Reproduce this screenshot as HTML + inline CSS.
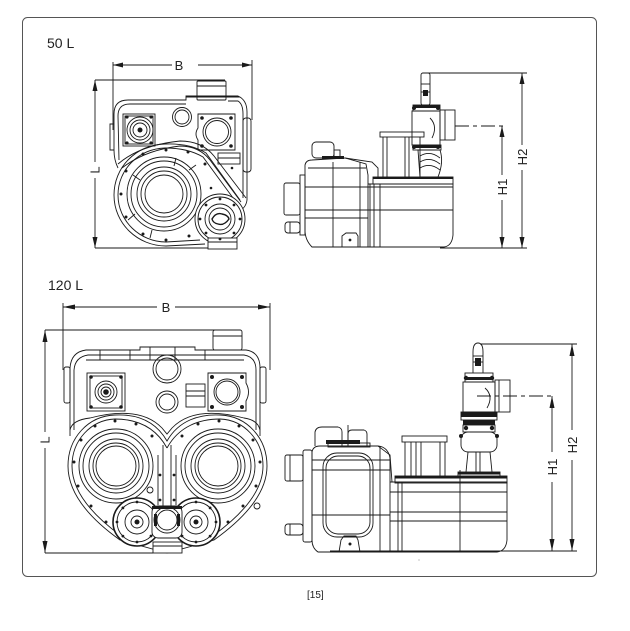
<!DOCTYPE html>
<html><head><meta charset="utf-8"><style>
html,body{margin:0;padding:0;background:#fff;}
svg{display:block;}
text{font-family:"Liberation Sans",sans-serif;fill:#222;}
</style></head><body>
<svg width="630" height="631" viewBox="0 0 630 631" xmlns="http://www.w3.org/2000/svg">
<rect x="0" y="0" width="630" height="631" fill="#fff"/>
<rect x="22.5" y="17.5" width="574" height="559" rx="5" fill="none" stroke="#555" stroke-width="1"/>

<text x="47" y="48" font-size="14">50 L</text>
<text x="48" y="290" font-size="14">120 L</text>
<text x="307" y="598" font-size="10">[15]</text>
<circle cx="419" cy="560" r="0.6" fill="#999"/>

<!-- ============ 50L FRONT ============ -->
<g stroke="#1a1a1a" fill="none" stroke-width="0.9">
 <line x1="113" y1="65" x2="172" y2="65"/>
 <line x1="198" y1="65" x2="252" y2="65"/>
 <line x1="113" y1="62" x2="113" y2="130"/>
 <line x1="252" y1="60" x2="252" y2="120"/>
 <line x1="95" y1="80" x2="225" y2="80"/>
 <line x1="95" y1="248" x2="230" y2="248"/>
 <line x1="95" y1="80" x2="95" y2="162"/>
 <line x1="95" y1="178" x2="95" y2="248"/>
</g>
<g fill="#1a1a1a">
 <polygon points="113,65 123,62.5 123,67.5"/>
 <polygon points="252,65 242,62.5 242,67.5"/>
 <polygon points="95,80 92.5,91 97.5,91"/>
 <polygon points="95,248 92.5,237 97.5,237"/>
</g>
<text x="179" y="70" font-size="13" text-anchor="middle">B</text>
<text x="0" y="0" font-size="13" text-anchor="middle" transform="translate(99.5,170) rotate(-90)">L</text>

<g stroke="#1a1a1a" fill="none" stroke-width="0.9">
 <rect x="197" y="81" width="29" height="19" rx="1"/>
 <line x1="197" y1="86" x2="226" y2="86"/>
 <line x1="186" y1="97" x2="240" y2="97"/>
 <path d="M118,168 Q114,160 114,150 L114,114 Q114,100 128,100 L186,100 L186,96 L238,96 Q247,100 247,112 L247,200 Q246,208 238,212"/>
 <path d="M119,160 L118,116 Q118,104 130,104 L186,104 M228,101 L238,101 Q243,104 243,114 L243,198"/>
 <path d="M114,124 L110,124 L110,150 L114,150"/>
 <rect x="243" y="118" width="8" height="54" rx="3"/>
 <rect x="123" y="114" width="32" height="32"/>
 <rect x="125" y="116" width="28" height="28"/>
 <circle cx="140" cy="130" r="13"/>
 <circle cx="140" cy="130" r="10"/>
 <circle cx="140" cy="130" r="7"/>
 <circle cx="182" cy="117" r="9.5"/>
 <circle cx="182" cy="117" r="7"/>
 <path d="M198,114 L235,114 L235,150 L198,150 L198,140 Q194,134 198,128 Z"/>
 <circle cx="217" cy="132" r="14"/>
 <circle cx="217" cy="132" r="11.5"/>
 <rect x="218" y="153" width="22" height="11"/>
 <line x1="218" y1="158" x2="240" y2="158"/>
 <!-- sweep band -->
 <path d="M118,164 Q140,145 180,141 Q202,141 214,156 L246,198"/>
 <path d="M122,168 Q145,150 180,146 Q199,146 210,160 L241,202"/>
 <!-- big disc teardrop -->
 <path d="M240,200 L206,153 Q190,143 165,144 C135,145 114,168 114,195 C114,224 138,246 166,246 L205,244"/>
 <path d="M236,202 L203,157 Q188,148 165,148 C138,149 118,170 118,195 C118,221 140,242 166,242 L200,240"/>
 <circle cx="164" cy="194" r="37"/>
 <circle cx="164" cy="194" r="33"/>
 <circle cx="164" cy="194" r="27"/>
 <circle cx="164" cy="194" r="23"/>
 <circle cx="164" cy="194" r="19"/>
 <line x1="176" y1="158" x2="174" y2="166"/>
 <line x1="128" y1="220" x2="135" y2="214"/>
 <line x1="196" y1="165" x2="189" y2="170"/>
 <line x1="152" y1="230" x2="150" y2="238"/>
 <line x1="133" y1="175" x2="140" y2="180"/>
 <!-- small disc -->
 <circle cx="220" cy="219" r="25" fill="#fff"/>
 <circle cx="220" cy="219" r="22"/>
 <circle cx="220" cy="219" r="15"/>
 <circle cx="220" cy="219" r="11"/>
 <path d="M212,219 Q216,212 222,214 Q228,215 229,219 Q224,226 218,224 Q213,223 212,219 Z" stroke-width="1.4"/>
 <rect x="208" y="238" width="29" height="11" fill="#fff"/>
 <line x1="208" y1="242" x2="237" y2="242"/>
</g>
<g fill="#1a1a1a">
 <circle cx="205" cy="164" r="1.5"/><circle cx="188" cy="152" r="1.5"/>
 <circle cx="166" cy="150" r="1.5"/><circle cx="143" cy="154" r="1.5"/><circle cx="126" cy="171" r="1.5"/>
 <circle cx="121" cy="194" r="1.5"/><circle cx="126" cy="217" r="1.5"/><circle cx="143" cy="234" r="1.5"/>
 <circle cx="166" cy="240" r="1.5"/><circle cx="189" cy="236" r="1.5"/>
 <circle cx="127" cy="117" r="1.6"/><circle cx="151" cy="117" r="1.6"/><circle cx="127" cy="143" r="1.6"/><circle cx="151" cy="143" r="1.6"/>
 <circle cx="202" cy="118" r="1.8"/><circle cx="231" cy="118" r="1.8"/><circle cx="202" cy="146" r="1.8"/><circle cx="231" cy="146" r="1.8"/>
 <circle cx="140" cy="130" r="2.5"/>
 <circle cx="220" cy="199" r="1.4"/><circle cx="220" cy="239" r="1.4"/><circle cx="200" cy="219" r="1.4"/><circle cx="240" cy="219" r="1.4"/>
 <circle cx="206" cy="205" r="1.4"/><circle cx="234" cy="205" r="1.4"/><circle cx="206" cy="233" r="1.4"/><circle cx="234" cy="233" r="1.4"/>
 <circle cx="211" cy="188" r="1.3"/><circle cx="232" cy="168" r="1.3"/>
</g>

<!-- ============ 50L SIDE ============ -->
<g stroke="#1a1a1a" fill="none" stroke-width="0.9">
 <line x1="427" y1="73" x2="527" y2="73"/>
 <line x1="522" y1="73" x2="522" y2="145"/>
 <line x1="522" y1="170" x2="522" y2="248"/>
 <line x1="455" y1="126" x2="505" y2="126" stroke-dasharray="14,4,4,4"/>
 <line x1="502" y1="126" x2="502" y2="175"/>
 <line x1="502" y1="200" x2="502" y2="248"/>
 <line x1="440" y1="248" x2="527" y2="248"/>
</g>
<g fill="#1a1a1a">
 <polygon points="522,73 519.5,84 524.5,84"/>
 <polygon points="522,248 519.5,237 524.5,237"/>
 <polygon points="502,126 499.5,137 504.5,137"/>
 <polygon points="502,248 499.5,237 504.5,237"/>
</g>
<text x="0" y="0" font-size="13" text-anchor="middle" transform="translate(527,157) rotate(-90)">H2</text>
<text x="0" y="0" font-size="13" text-anchor="middle" transform="translate(507,187) rotate(-90)">H1</text>

<g stroke="#1a1a1a" fill="none" stroke-width="0.9">
 <path d="M305,165 Q306,160 312,160 L345,158 L366,164 L368,175 L368,247 L312,247 Q305,240 305,230 Z"/>
 <path d="M345,158 L372,162 L378,168 L378,178"/>
 <line x1="308" y1="168" x2="366" y2="168"/>
 <line x1="305" y1="187" x2="453" y2="187"/>
 <line x1="305" y1="210" x2="453" y2="210"/>
 <line x1="305" y1="218" x2="368" y2="218"/>
 <line x1="333" y1="162" x2="333" y2="247"/>
 <line x1="360" y1="162" x2="360" y2="247"/>
 <rect x="312" y="142" width="22" height="16" rx="4"/>
 <rect x="334" y="150" width="6" height="8"/>
 <rect x="300" y="175" width="5" height="60"/>
 <rect x="284" y="183" width="16" height="32" rx="2"/>
 <rect x="285" y="222" width="15" height="11" rx="3"/>
 <line x1="290" y1="222" x2="290" y2="233"/>
 <path d="M342,247 L342,236 L346,233 L356,233 L358,236 L358,247"/>
 <path d="M368,184 L453,184 L453,235 Q452,246 444,247 L368,247"/>
 <line x1="370" y1="184" x2="370" y2="247"/>
 <line x1="374" y1="184" x2="374" y2="247"/>
 <line x1="380" y1="184" x2="380" y2="247"/>
 <rect x="373" y="177" width="80" height="7"/>
 <rect x="380" y="132" width="44" height="5"/>
 <line x1="383" y1="137" x2="383" y2="177"/>
 <line x1="387" y1="137" x2="387" y2="177"/>
 <line x1="405" y1="137" x2="405" y2="177"/>
 <line x1="409" y1="137" x2="409" y2="177"/>
 <line x1="420" y1="137" x2="420" y2="177"/>
 <rect x="421" y="73" width="9" height="32" rx="2"/>
 <line x1="421" y1="84" x2="430" y2="84"/>
 <line x1="421" y1="92" x2="430" y2="92"/>
 <rect x="413" y="105" width="27" height="6"/>
 <path d="M412,111 L440,111 L440,145 L412,145 Z"/>
 <path d="M430,118 Q438,126 432,138"/>
 <rect x="440" y="110" width="15" height="30"/>
 <line x1="445" y1="110" x2="445" y2="140"/>
 <rect x="413" y="145" width="28" height="5"/>
 <path d="M418,150 L440,150 Q444,162 438,177 L420,177 Z"/>
 <path d="M420,156 Q430,150 440,158 M420,162 Q430,156 440,164 M420,168 Q430,162 440,170"/>
</g>
<g fill="#1a1a1a">
 <rect x="413" y="105" width="27" height="3"/>
 <rect x="413" y="145" width="28" height="3"/>
 <rect x="373" y="177" width="80" height="2"/>
 <rect x="322" y="156" width="22" height="3"/>
 <rect x="423" y="90" width="5" height="6"/>
 <circle cx="350" cy="240" r="1.4"/>
 <circle cx="414" cy="108" r="2"/><circle cx="438" cy="108" r="2"/>
 <circle cx="414" cy="147" r="2"/><circle cx="438" cy="147" r="2"/>
</g>

<!-- ============ 120L FRONT ============ -->
<g stroke="#1a1a1a" fill="none" stroke-width="0.9">
 <line x1="63" y1="307" x2="157" y2="307"/>
 <line x1="175" y1="307" x2="270" y2="307"/>
 <line x1="63" y1="303" x2="63" y2="370"/>
 <line x1="270" y1="303" x2="270" y2="370"/>
 <line x1="45" y1="330" x2="227" y2="330"/>
 <line x1="45" y1="553" x2="153" y2="553"/>
 <line x1="45" y1="330" x2="45" y2="432"/>
 <line x1="45" y1="448" x2="45" y2="553"/>
</g>
<g fill="#1a1a1a">
 <polygon points="63,307 75,304.5 75,309.5"/>
 <polygon points="270,307 258,304.5 258,309.5"/>
 <polygon points="45,330 42.5,342 47.5,342"/>
 <polygon points="45,553 42.5,541 47.5,541"/>
</g>
<text x="166" y="312" font-size="13" text-anchor="middle">B</text>
<text x="0" y="0" font-size="13" text-anchor="middle" transform="translate(49.5,440) rotate(-90)">L</text>

<g stroke="#1a1a1a" fill="none" stroke-width="0.9">
 <rect x="213" y="330" width="29" height="20" rx="2"/>
 <line x1="213" y1="336" x2="242" y2="336"/>
 <path d="M70,436 L70,368 Q71,352 86,350 L140,350 L140,347 L195,347 L195,350 L246,350 Q260,352 260,368 L260,436"/>
 <path d="M74,430 L74,370 Q75,357 88,355 L244,355 Q256,357 256,370 L256,430"/>
 <line x1="86" y1="360" x2="244" y2="360"/>
 <line x1="100" y1="350" x2="100" y2="360"/><line x1="130" y1="350" x2="130" y2="360"/>
 <line x1="150" y1="347" x2="150" y2="360"/><line x1="175" y1="347" x2="175" y2="360"/>
 <line x1="205" y1="350" x2="205" y2="360"/>
 <rect x="64" y="367" width="6" height="36" rx="2"/>
 <rect x="260" y="367" width="6" height="36" rx="2"/>
 <rect x="87" y="373" width="38" height="38"/>
 <rect x="90" y="376" width="32" height="32"/>
 <circle cx="106" cy="392" r="11"/>
 <circle cx="106" cy="392" r="8"/>
 <circle cx="106" cy="392" r="5"/>
 <path d="M208,373 L246,373 L246,383 Q251,392 246,401 L246,411 L208,411 Z"/>
 <circle cx="227" cy="392" r="13"/>
 <circle cx="227" cy="392" r="11"/>
 <circle cx="167" cy="369" r="14"/>
 <circle cx="167" cy="369" r="11"/>
 <circle cx="167" cy="402" r="11"/>
 <circle cx="167" cy="402" r="8"/>
 <rect x="186" y="384" width="19" height="23"/>
 <line x1="186" y1="391" x2="205" y2="391"/>
 <line x1="186" y1="396" x2="205" y2="396"/>
 <!-- shoulder lines -->
 <path d="M70,430 Q72,420 90,418 Q140,405 162,428 L167,434 L172,428 Q194,405 244,418 Q258,420 260,430"/>
 <!-- heart outline -->
 <path d="M167,441 C155,420 135,414 115,415 C88,416 68,438 68,466 C68,495 92,520 120,540 L167,553 L214,540 C242,520 267,495 267,466 C267,438 247,416 220,415 C200,414 179,420 167,441 Z"/>
 <path d="M167,448 C155,426 135,419 115,419 C91,420 72,440 72,466 C72,492 94,516 120,535 M214,535 C240,516 263,492 263,466 C263,440 244,420 220,419 C200,419 179,426 167,448"/>
 <!-- lobes rings -->
 <circle cx="116" cy="466" r="37"/>
 <circle cx="116" cy="466" r="33"/>
 <circle cx="116" cy="466" r="27"/>
 <circle cx="116" cy="466" r="23"/>
 <circle cx="116" cy="466" r="20"/>
 <circle cx="218" cy="466" r="37"/>
 <circle cx="218" cy="466" r="33"/>
 <circle cx="218" cy="466" r="27"/>
 <circle cx="218" cy="466" r="23"/>
 <circle cx="218" cy="466" r="20"/>
 <line x1="163" y1="445" x2="163" y2="510"/>
 <line x1="171" y1="445" x2="171" y2="510"/>
 <line x1="158" y1="455" x2="158" y2="505"/>
 <line x1="176" y1="455" x2="176" y2="505"/>
 <circle cx="150" cy="490" r="3"/>
 <circle cx="257" cy="506" r="3"/>
 <!-- small discs -->
 <circle cx="137" cy="522" r="24" fill="#fff" stroke-width="1.6"/>
 <circle cx="137" cy="522" r="20"/>
 <circle cx="137" cy="522" r="12"/>
 <circle cx="137" cy="522" r="6"/>
 <circle cx="196" cy="522" r="24" fill="#fff" stroke-width="1.6"/>
 <circle cx="196" cy="522" r="20"/>
 <circle cx="196" cy="522" r="12"/>
 <circle cx="196" cy="522" r="6"/>
 <rect x="152" y="506" width="30" height="32" rx="6" fill="#fff"/>
 <circle cx="167" cy="520" r="13"/>
 <circle cx="167" cy="520" r="10"/>
 <rect x="153" y="542" width="29" height="11" fill="#fff"/>
 <line x1="153" y1="546" x2="182" y2="546"/>
</g>
<g fill="#1a1a1a">
 <circle cx="152" cy="436" r="1.5"/><circle cx="136" cy="424" r="1.5"/><circle cx="115" cy="421" r="1.5"/>
 <circle cx="95" cy="426" r="1.5"/><circle cx="81" cy="440" r="1.5"/><circle cx="74" cy="462" r="1.5"/>
 <circle cx="78" cy="486" r="1.5"/><circle cx="91" cy="506" r="1.5"/><circle cx="106" cy="522" r="1.5"/>
 <circle cx="182" cy="436" r="1.5"/><circle cx="198" cy="424" r="1.5"/><circle cx="219" cy="421" r="1.5"/>
 <circle cx="239" cy="426" r="1.5"/><circle cx="253" cy="440" r="1.5"/><circle cx="260" cy="462" r="1.5"/>
 <circle cx="256" cy="486" r="1.5"/><circle cx="243" cy="506" r="1.5"/><circle cx="228" cy="522" r="1.5"/>
 <circle cx="91" cy="377" r="1.8"/><circle cx="121" cy="377" r="1.8"/><circle cx="91" cy="407" r="1.8"/><circle cx="121" cy="407" r="1.8"/>
 <circle cx="212" cy="377" r="2"/><circle cx="242" cy="377" r="2"/><circle cx="212" cy="407" r="2"/><circle cx="242" cy="407" r="2"/>
 <circle cx="106" cy="392" r="2.8"/>
 <circle cx="137" cy="522" r="2.5"/><circle cx="196" cy="522" r="2.5"/>
 <circle cx="137" cy="502" r="1.4"/><circle cx="122.9" cy="507.9" r="1.4"/><circle cx="117" cy="522" r="1.4"/><circle cx="122.9" cy="536.1" r="1.4"/><circle cx="137" cy="542" r="1.4"/><circle cx="151" cy="536" r="1.4"/>
 <circle cx="196" cy="502" r="1.4"/><circle cx="210.1" cy="507.9" r="1.4"/><circle cx="216" cy="522" r="1.4"/><circle cx="210.1" cy="536.1" r="1.4"/><circle cx="196" cy="542" r="1.4"/><circle cx="182" cy="536" r="1.4"/>
 <circle cx="160" cy="475" r="1.4"/><circle cx="174" cy="475" r="1.4"/><circle cx="160" cy="500" r="1.4"/><circle cx="174" cy="500" r="1.4"/>
 <rect x="152" y="506" width="30" height="3"/>
 <rect x="154" y="514" width="3" height="12"/><rect x="177" y="514" width="3" height="12"/>
</g>

<!-- ============ 120L SIDE ============ -->
<g stroke="#1a1a1a" fill="none" stroke-width="0.9">
 <line x1="480" y1="344" x2="577" y2="344"/>
 <line x1="572" y1="344" x2="572" y2="430"/>
 <line x1="572" y1="460" x2="572" y2="551"/>
 <line x1="477" y1="396" x2="555" y2="396" stroke-dasharray="14,4,4,4"/>
 <line x1="552" y1="396" x2="552" y2="452"/>
 <line x1="552" y1="482" x2="552" y2="551"/>
 <line x1="330" y1="551" x2="577" y2="551"/>
</g>
<g fill="#1a1a1a">
 <polygon points="572,344 569.5,356 574.5,356"/>
 <polygon points="572,551 569.5,539 574.5,539"/>
 <polygon points="552,396 549.5,408 554.5,408"/>
 <polygon points="552,551 549.5,539 554.5,539"/>
</g>
<text x="0" y="0" font-size="13" text-anchor="middle" transform="translate(577,445) rotate(-90)">H2</text>
<text x="0" y="0" font-size="13" text-anchor="middle" transform="translate(557,467) rotate(-90)">H1</text>

<g stroke="#1a1a1a" fill="none" stroke-width="0.9">
 <path d="M312,452 Q313,446 320,446 L378,446 Q388,447 390,458 L390,552 L318,552 Q312,548 312,540 Z"/>
 <line x1="312" y1="460" x2="390" y2="460"/>
 <line x1="312" y1="470" x2="390" y2="470"/>
 <line x1="312" y1="515" x2="390" y2="515"/>
 <line x1="380" y1="446" x2="380" y2="552"/>
 <path d="M378,446 L390,455 L392,482"/>
 <rect x="323" y="453" width="50" height="84" rx="14"/>
 <rect x="326" y="456" width="44" height="78" rx="12"/>
 <rect x="303" y="450" width="9" height="92" rx="2"/>
 <rect x="285" y="455" width="18" height="26" rx="2"/>
 <line x1="290" y1="455" x2="290" y2="481"/>
 <rect x="285" y="524" width="18" height="11" rx="3"/>
 <line x1="290" y1="524" x2="290" y2="535"/>
 <path d="M339,552 L341,540 L344,536 L356,536 L358,540 L360,552"/>
 <path d="M315,446 L315,432 Q316,427 322,427 L338,427 Q342,428 342,432 L342,446"/>
 <path d="M348,446 L348,434 Q348,430 352,430 L364,430 Q367,431 367,434 L367,446"/>
 <line x1="348" y1="425" x2="348" y2="446"/>
 <rect x="328" y="443" width="42" height="4"/>
 <path d="M390,482 L507,482 L507,540 Q506,551 497,552 L390,552"/>
 <line x1="390" y1="492" x2="507" y2="492"/>
 <line x1="390" y1="512" x2="507" y2="512"/>
 <line x1="390" y1="521" x2="507" y2="521"/>
 <line x1="398" y1="482" x2="398" y2="552"/>
 <line x1="402" y1="482" x2="402" y2="552"/>
 <line x1="460" y1="482" x2="460" y2="552"/>
 <rect x="395" y="476" width="112" height="7"/>
 <line x1="460" y1="470" x2="460" y2="483"/>
 <rect x="402" y="436" width="45" height="6"/>
 <line x1="405" y1="442" x2="405" y2="476"/>
 <line x1="411" y1="442" x2="411" y2="476"/>
 <line x1="416" y1="442" x2="416" y2="476"/>
 <line x1="421" y1="442" x2="421" y2="476"/>
 <line x1="440" y1="442" x2="440" y2="476"/>
 <line x1="445" y1="442" x2="445" y2="476"/>
 <path d="M473,373 L473,352 Q473,343 478,343 Q483,343 483,352 L483,373"/>
 <line x1="473" y1="356" x2="483" y2="356"/>
 <line x1="473" y1="362" x2="483" y2="362"/>
 <rect x="465" y="373" width="28" height="9"/>
 <rect x="463" y="382" width="32" height="30"/>
 <path d="M485,388 Q494,396 487,408"/>
 <rect x="495" y="380" width="15" height="32"/>
 <line x1="499" y1="380" x2="499" y2="412"/>
 <rect x="461" y="412" width="36" height="8"/>
 <rect x="463" y="425" width="32" height="7"/>
 <rect x="461" y="432" width="36" height="20" rx="7"/>
 <line x1="468" y1="452" x2="466" y2="472"/>
 <line x1="476" y1="452" x2="476" y2="472"/>
 <line x1="480" y1="452" x2="480" y2="472"/>
 <line x1="490" y1="452" x2="492" y2="472"/>
 <rect x="458" y="472" width="42" height="6"/>
</g>
<g fill="#1a1a1a">
 <rect x="461" y="412" width="36" height="5"/>
 <rect x="463" y="420" width="32" height="5"/>
 <rect x="395" y="476" width="112" height="2.5"/>
 <rect x="465" y="377" width="28" height="3"/>
 <rect x="326" y="440" width="34" height="4"/>
 <rect x="475" y="358" width="6" height="8"/>
 <circle cx="350" cy="544" r="1.5"/>
 <circle cx="466" cy="378" r="2.2"/><circle cx="492" cy="378" r="2.2"/>
 <circle cx="466" cy="428" r="2.2"/><circle cx="492" cy="428" r="2.2"/>
 <circle cx="461" cy="436" r="2"/><circle cx="497" cy="436" r="2"/>
 <rect x="458" y="472" width="42" height="2.5"/>
</g>
</svg>
</body></html>
